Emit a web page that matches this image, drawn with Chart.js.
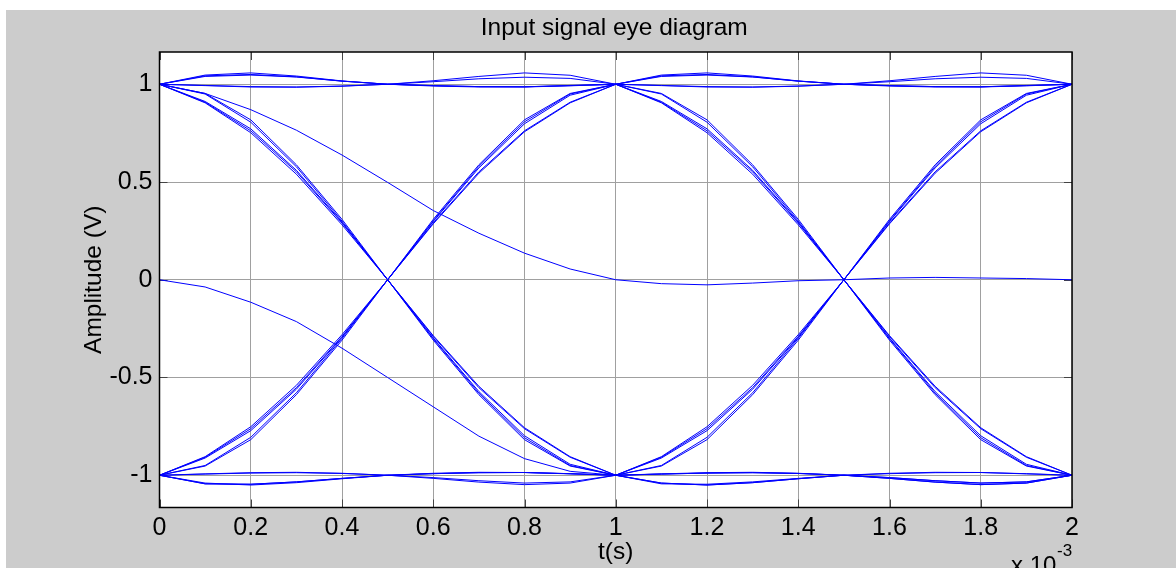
<!DOCTYPE html>
<html>
<head>
<meta charset="utf-8">
<title>Input signal eye diagram</title>
<script src="https://cdn.jsdelivr.net/npm/chart.js@4.4.1/dist/chart.umd.min.js"></script>
<style>
  html, body { margin: 0; padding: 0; background: #fff; }
  #wrap { width: 1176px; height: 568px; }
</style>
</head>
<body>
<div id="wrap"><canvas id="eye" width="1176" height="568"></canvas></div>
<script>
// sample instants (s): two symbols of 1e-3 s, 10 samples each
const tValues = [0, 0.0001, 0.0002, 0.0003, 0.0004, 0.0005, 0.0006, 0.0007, 0.0008, 0.0009, 0.001,
                 0.0011, 0.0012, 0.0013, 0.0014, 0.0015, 0.0016, 0.0017, 0.0018, 0.0019, 0.002];
const xTicks = [0, 0.0002, 0.0004, 0.0006, 0.0008, 0.001, 0.0012, 0.0014, 0.0016, 0.0018, 0.002];
const yTicks = [-1, -0.5, 0, 0.5, 1];

// one-symbol pieces (11 samples)
const fallA = [1, 0.953, 0.818, 0.588, 0.309, 0, -0.309, -0.588, -0.818, -0.953, -1];
const fallB = [1, 0.950, 0.806, 0.578, 0.300, 0, -0.286, -0.545, -0.757, -0.905, -1];
const fallC = [1, 0.905, 0.752, 0.540, 0.281, 0, -0.302, -0.580, -0.808, -0.950, -1];
const fallD = [1, 0.908, 0.762, 0.552, 0.290, 0, -0.290, -0.552, -0.762, -0.908, -1];
const fallE = [1, 0.912, 0.772, 0.560, 0.294, 0, -0.298, -0.572, -0.798, -0.944, -1];

const riseA = [-1, -0.953, -0.818, -0.588, -0.309, 0, 0.309, 0.588, 0.818, 0.953, 1];
const riseB = [-1, -0.950, -0.806, -0.578, -0.300, 0, 0.286, 0.545, 0.757, 0.905, 1];
const riseC = [-1, -0.905, -0.752, -0.540, -0.281, 0, 0.302, 0.580, 0.808, 0.950, 1];
const riseD = [-1, -0.908, -0.762, -0.552, -0.290, 0, 0.290, 0.552, 0.762, 0.908, 1];
const riseE = [-1, -0.912, -0.772, -0.560, -0.294, 0, 0.298, 0.572, 0.798, 0.944, 1];

const highA = [1, 1.040, 1.047, 1.037, 1.016, 1, 1.018, 1.040, 1.058, 1.046, 1];
const highB = [1, 1.043, 1.050, 1.038, 1.016, 1, 0.993, 0.988, 0.986, 0.992, 1];
const highC = [1, 0.994, 0.988, 0.986, 0.991, 1, 1.013, 1.028, 1.036, 1.030, 1];
const highD = [1, 0.993, 0.986, 0.985, 0.990, 1, 0.991, 0.986, 0.987, 0.994, 1];
const highE = [1, 1.047, 1.058, 1.042, 1.017, 1, 0.993, 0.988, 0.987, 0.993, 1];

const lowA = [-1, -1.040, -1.050, -1.038, -1.018, -1, -1.016, -1.035, -1.048, -1.040, -1];
const lowB = [-1, -1.044, -1.046, -1.034, -1.016, -1, -0.992, -0.987, -0.986, -0.992, -1];
const lowC = [-1, -0.994, -0.989, -0.987, -0.991, -1, -1.012, -1.028, -1.040, -1.034, -1];
const lowD = [-1, -0.993, -0.987, -0.985, -0.990, -1, -0.990, -0.985, -0.986, -0.993, -1];

// start-up traces (filter transient)
const startHigh = [1, 0.953, 0.870, 0.765, 0.638, 0.498, 0.354, 0.238, 0.136, 0.055, 0,
                   -0.020, -0.026, -0.017, -0.005, 0, 0.009, 0.012, 0.009, 0.006, 0];
const startZero = [0, -0.037, -0.115, -0.214, -0.350, -0.500, -0.650, -0.800, -0.915, -0.980, -1,
                   -0.994, -0.989, -0.987, -0.991, -1, -1.012, -1.028, -1.040, -1.034, -1];

// each eye trace = first symbol piece + second symbol piece
const tracePairs = [
  [fallA, riseC], [fallB, lowA], [fallC, riseA], [fallD, lowD], [fallE, riseE],
  [riseA, fallC], [riseB, highE], [riseC, fallA], [riseD, highD], [riseE, fallE],
  [highA, fallB], [highB, highC], [highC, fallD], [highD, highA], [highE, highB],
  [lowA, riseB], [lowB, lowC], [lowC, riseD], [lowD, lowB], [lowB, lowA]
];

const traces = [startHigh, startZero].concat(tracePairs.map(p => p[0].concat(p[1].slice(1))));

const FONT = '"Liberation Sans", Arial, Helvetica, sans-serif';

const datasets = traces.map(tr => ({
  data: tr.map((v, i) => ({ x: tValues[i], y: v })),
  borderColor: '#0000ff',
  borderWidth: 1,
  pointRadius: 0,
  tension: 0,
  fill: false
}));

// figure background, axes box, inward ticks, title and exponent
const figurePlugin = {
  id: 'figure',
  beforeDraw(chart) {
    const { ctx, chartArea: a } = chart;
    ctx.save();
    ctx.fillStyle = '#ffffff';
    ctx.fillRect(0, 0, chart.width, chart.height);
    ctx.fillStyle = '#cccccc';
    ctx.fillRect(6, 10, chart.width - 6, chart.height - 10);
    ctx.fillStyle = '#ffffff';
    ctx.fillRect(a.left, a.top, a.right - a.left, a.bottom - a.top);
    ctx.restore();
  },
  beforeDatasetsDraw(chart) {
    const { ctx, chartArea: a, scales } = chart;
    const len = 8;
    ctx.save();
    ctx.strokeStyle = '#444444';
    ctx.lineWidth = 1;
    ctx.beginPath();
    xTicks.forEach(v => {
      const px = Math.round(scales.x.getPixelForValue(v)) + 0.5;
      ctx.moveTo(px, a.bottom); ctx.lineTo(px, a.bottom - len);
      ctx.moveTo(px, a.top); ctx.lineTo(px, a.top + len);
    });
    yTicks.forEach(v => {
      const py = Math.round(scales.y.getPixelForValue(v)) + 0.5;
      ctx.moveTo(a.left, py); ctx.lineTo(a.left + len, py);
      ctx.moveTo(a.right, py); ctx.lineTo(a.right - len, py);
    });
    ctx.stroke();
    ctx.restore();
  },
  afterDraw(chart) {
    const { ctx, chartArea: a } = chart;
    ctx.save();
    ctx.strokeStyle = '#000000';
    ctx.lineWidth = 1.5;
    ctx.strokeRect(a.left, a.top, a.right - a.left, a.bottom - a.top);

    ctx.fillStyle = '#000000';
    ctx.font = '24.5px ' + FONT;
    ctx.textAlign = 'center';
    ctx.textBaseline = 'alphabetic';
    ctx.fillText('Input signal eye diagram', (a.left + a.right) / 2 - 1.5, 35);

    ctx.textAlign = 'left';
    ctx.font = '24px ' + FONT;
    ctx.fillText('x 10', 1011, 573);
    ctx.font = '17px ' + FONT;
    ctx.fillText('-3', 1057, 556);
    ctx.restore();
  }
};

new Chart(document.getElementById('eye').getContext('2d'), {
  type: 'line',
  data: { datasets },
  options: {
    responsive: false,
    animation: false,
    events: [],
    layout: { padding: { top: 52, right: 104, bottom: 0, left: 0 } },
    plugins: {
      legend: { display: false },
      tooltip: { enabled: false },
      title: { display: false }
    },
    scales: {
      x: {
        type: 'linear',
        min: 0,
        max: 0.002,
        afterBuildTicks: scale => { scale.ticks = xTicks.map(v => ({ value: v })); },
        afterFit: scale => { scale.height = 60.5; },
        grid: { color: '#a0a0a0', lineWidth: 1, drawTicks: false },
        border: { display: false },
        ticks: {
          padding: 6,
          maxRotation: 0,
          autoSkip: false,
          color: '#000000',
          font: { family: FONT, size: 25 },
          callback: v => String(+(v * 1000).toFixed(1))
        },
        title: {
          display: true,
          text: 't(s)',
          color: '#000000',
          font: { family: FONT, size: 24.5 },
          padding: { top: 0, bottom: 1 }
        }
      },
      y: {
        type: 'linear',
        min: -1.165,
        max: 1.165,
        afterBuildTicks: scale => { scale.ticks = yTicks.map(v => ({ value: v })); },
        afterFit: scale => { scale.width = 159.5; },
        grid: { color: '#a0a0a0', lineWidth: 1, drawTicks: false },
        border: { display: false },
        ticks: {
          padding: 7,
          autoSkip: false,
          color: '#000000',
          font: { family: FONT, size: 25 },
          callback: v => String(v)
        },
        title: {
          display: true,
          text: 'Amplitude (V)',
          color: '#000000',
          font: { family: FONT, size: 24.5 },
          padding: { top: 80, bottom: 0 }
        }
      }
    }
  },
  plugins: [figurePlugin]
});
</script>
</body>
</html>
